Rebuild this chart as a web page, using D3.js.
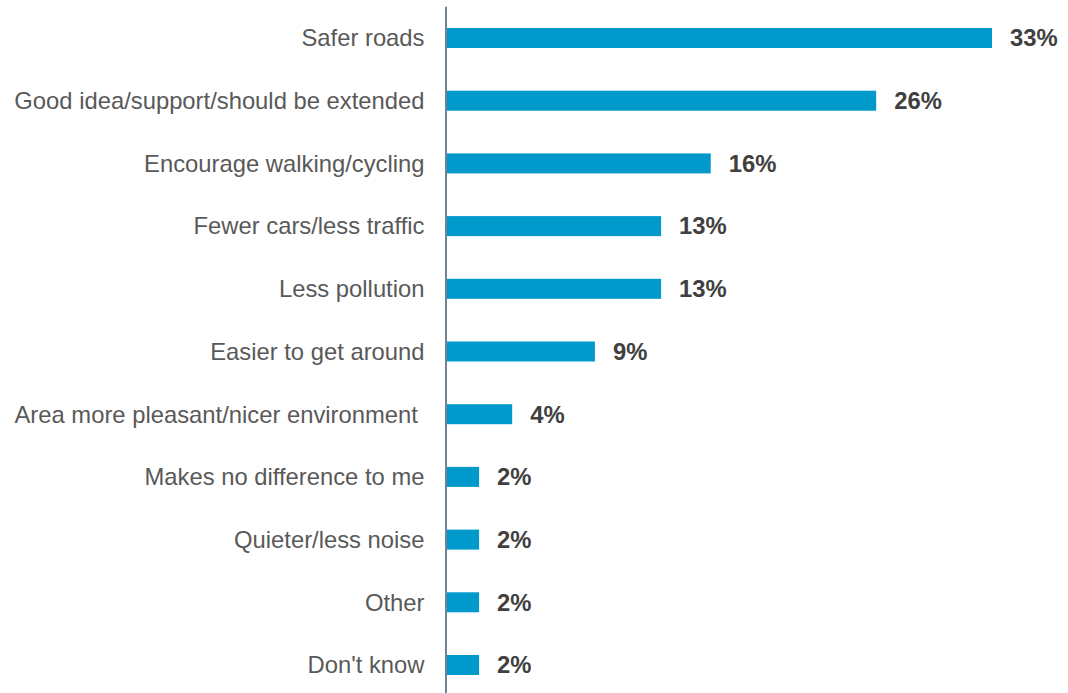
<!DOCTYPE html>
<html>
<head>
<meta charset="utf-8">
<script src="https://cdn.jsdelivr.net/npm/d3@7/dist/d3.min.js"></script>
<style>
  html, body { margin: 0; padding: 0; background: #fff; }
  svg { display: block; }
</style>
</head>
<body>
<svg id="chart" width="1068" height="693"></svg>
<script>
// Reasons given (share of respondents, %)
const categories = [
  "Safer roads",
  "Good idea/support/should be extended",
  "Encourage walking/cycling",
  "Fewer cars/less traffic",
  "Less pollution",
  "Easier to get around",
  "Area more pleasant/nicer environment ",
  "Makes no difference to me",
  "Quieter/less noise",
  "Other",
  "Don't know"
];
const values = [33, 26, 16, 13, 13, 9, 4, 2, 2, 2, 2];
const valueLabels = ["33%", "26%", "16%", "13%", "13%", "9%", "4%", "2%", "2%", "2%", "2%"];

const svg = d3.select("#chart");
const axisX = 446;
const plotTop = 6.7, plotBottom = 696.3;
const fontSize = 23.8;

const x = d3.scaleLinear().domain([0, 33]).range([axisX, 992]);
const y = d3.scaleBand().domain(categories).range([plotTop, plotBottom]).paddingInner(0.681).paddingOuter(0.34);

const data = categories.map((c, i) => ({ c, v: values[i], label: valueLabels[i] }));

// bars
svg.append("g").selectAll("rect").data(data).join("rect")
  .attr("x", x(0))
  .attr("y", d => y(d.c))
  .attr("width", d => x(d.v) - x(0))
  .attr("height", y.bandwidth())
  .attr("fill", "#0099cc");

// category labels
svg.append("g").selectAll("text").data(data).join("text")
  .attr("x", 424.5)
  .attr("y", d => y(d.c) + y.bandwidth() / 2)
  .attr("dy", "0.35em")
  .attr("text-anchor", "end")
  .attr("font-family", "'Liberation Sans', Arial, sans-serif")
  .attr("font-size", fontSize)
  .attr("fill", "#595959")
  .style("white-space", "pre")
  .text(d => d.c);

// value labels
svg.append("g").selectAll("text").data(data).join("text")
  .attr("x", d => x(d.v) + 18)
  .attr("y", d => y(d.c) + y.bandwidth() / 2)
  .attr("dy", "0.35em")
  .attr("font-family", "'Liberation Sans', Arial, sans-serif")
  .attr("font-size", fontSize)
  .attr("font-weight", "bold")
  .attr("fill", "#404040")
  .text(d => d.label);

// vertical axis line
svg.append("line")
  .attr("x1", axisX).attr("x2", axisX)
  .attr("y1", plotTop).attr("y2", 693)
  .attr("stroke", "#6f8394")
  .attr("stroke-width", 2);
</script>
</body>
</html>
